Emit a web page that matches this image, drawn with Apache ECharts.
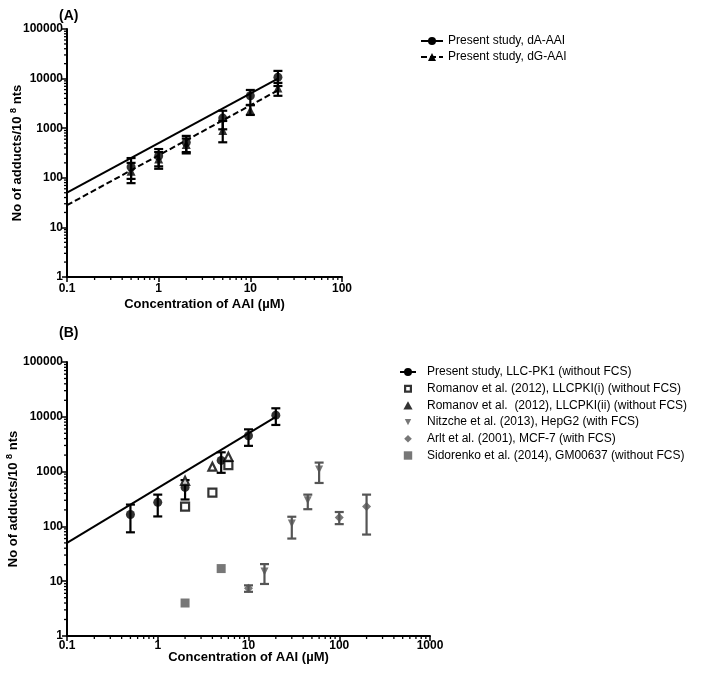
<!DOCTYPE html>
<html><head><meta charset="utf-8">
<script src="https://cdn.jsdelivr.net/npm/echarts@6/dist/echarts.min.js"></script>
<style>html,body{margin:0;padding:0;background:#fff}#c{width:709px;height:676px}</style>
</head><body><div id="c"></div>
<script>
// ---------- data ----------
const xTickLabelsA = ['0.1', '1', '10', '100'];
const xTickLabelsB = ['0.1', '1', '10', '100', '1000'];
const yTickLabels = ['1', '10', '100', '1000', '10000', '100000'];
const minorMultipliers = [2, 3, 4, 5, 6, 7, 8, 9];
const xDecadesA = [0.1, 1, 10];
const xDecadesB = [0.1, 1, 10, 100];
const yDecades = [1, 10, 100, 1000, 10000];

// Panel A
const conc = [0.5, 1, 2, 5, 10, 20];
const dA_mean = [165, 275, 515, 1600, 4500, 10700];
const dA_low = [78, 152, 310, 950, 2950, 7100];
const dA_high = [250, 380, 700, 2250, 5900, 14300];
const dG_mean = [135, 240, 470, 900, 2300, 6500];
const dG_low = [95, 170, 330, 520, 1850, 4500];
const dG_high = [200, 330, 620, 1400, 2900, 8200];
const fitX = [0.1, 20];
const fit_dA = [50, 10000];
const fit_dG = [28, 5800];

// Panel B
const present_mean = [165, 275, 515, 1600, 4500, 10700];
const present_low = [78, 152, 310, 950, 2950, 7100];
const present_high = [250, 380, 700, 2250, 5900, 14300];
const romanovI_x = [2, 4, 6];
const romanovI_y = [230, 415, 1310];
const romanovII_x = [2, 4, 6];
const romanovII_y = [680, 1230, 1860];
const nitzche_x = [15, 30, 45, 60];
const nitzche_y = [15, 113, 300, 1090];
const nitzche_low = [8.9, 60, 206, 620];
const nitzche_high = [20.5, 150, 380, 1460];
const arlt_x = [10, 100, 200];
const arlt_y = [7.4, 145, 230];
const arlt_low = [6.4, 110, 71];
const arlt_high = [8.4, 183, 380];
const sidorenko_x = [2, 5];
const sidorenko_y = [4, 17];

const legendA = ['Present study, dA-AAI', 'Present study, dG-AAI'];
const legendB = ['Present study, LLC-PK1 (without FCS)', 'Romanov et al. (2012), LLCPKI(i) (without FCS)',
  'Romanov et al.  (2012), LLCPKI(ii) (without FCS)', 'Nitzche et al. (2013), HepG2 (with FCS)',
  'Arlt et al. (2001), MCF-7 (with FCS)', 'Sidorenko et al. (2014), GM00637 (without FCS)'];

// ---------- helpers ----------
const FONT = "'Liberation Sans', Arial, sans-serif";
const GRAY = '#555555';
const zip = (xs, ys) => xs.map((x, i) => [x, ys[i]]);
const zip3 = (xs, lo, hi) => xs.map((x, i) => [x, lo[i], hi[i]]);
const minorVals = (decs) => { const o = []; decs.forEach(d => minorMultipliers.forEach(m => o.push(+(d * m).toPrecision(3)))); return o; };

function errSeries(idx, data, color) {
  return {
    type: 'custom', xAxisIndex: idx, yAxisIndex: idx, silent: true, z: 3,
    data: data, encode: { x: 0, y: [1, 2] }, itemStyle: { color: color },
    renderItem: function (params, api) {
      const x = api.value(0);
      const p1 = api.coord([x, api.value(1)]);
      const p2 = api.coord([x, api.value(2)]);
      const w = 4.5;
      const st = { stroke: color, lineWidth: 2.2 };
      return { type: 'group', children: [
        { type: 'line', shape: { x1: p1[0], y1: p1[1], x2: p2[0], y2: p2[1] }, style: st },
        { type: 'line', shape: { x1: p1[0] - w, y1: p1[1], x2: p1[0] + w, y2: p1[1] }, style: st },
        { type: 'line', shape: { x1: p2[0] - w, y1: p2[1], x2: p2[0] + w, y2: p2[1] }, style: st }
      ] };
    }
  };
}
function minorTickSeries(idx, vals, dir, fixed) {
  return {
    type: 'custom', xAxisIndex: idx, yAxisIndex: idx, silent: true, clip: false, z: 1,
    data: vals.map(v => dir === 'x' ? [v, fixed] : [fixed, v]),
    renderItem: function (params, api) {
      const p = api.coord([api.value(0), api.value(1)]);
      const st = { stroke: '#000', lineWidth: 1.3 };
      if (dir === 'x') return { type: 'line', shape: { x1: p[0], y1: p[1], x2: p[0], y2: p[1] + 3 }, style: st };
      return { type: 'line', shape: { x1: p[0] - 3, y1: p[1], x2: p[0], y2: p[1] }, style: st };
    }
  };
}
function xAxisCfg(idx, max, labels, gap, lblMargin) {
  return {
    type: 'log', logBase: 10, gridIndex: idx, min: 0.1, max: max,
    name: 'Concentration of AAI (\u00B5M)', nameLocation: 'middle', nameGap: gap, nameMoveOverlap: false,
    nameTextStyle: { fontFamily: FONT, fontWeight: 'bold', fontSize: 13, color: '#000' },
    axisLine: { lineStyle: { color: '#000', width: 2 } },
    axisTick: { length: 5, lineStyle: { width: 1.5, color: '#000' } },
    axisLabel: { fontFamily: FONT, fontWeight: 'bold', fontSize: 12, color: '#000', margin: lblMargin,
      formatter: (v) => { const s = String(+v.toPrecision(3)); return labels.indexOf(s) >= 0 ? s : ''; } },
    splitLine: { show: false }
  };
}
function yAxisCfg(idx, gap) {
  return {
    type: 'log', logBase: 10, gridIndex: idx, min: 1, max: 100000,
    name: 'No of adducts/10 {sup|8} nts', nameLocation: 'middle', nameGap: gap, nameRotate: 90, nameMoveOverlap: false,
    nameTextStyle: { fontFamily: FONT, fontWeight: 'bold', fontSize: 13, color: '#000',
      rich: { sup: { fontFamily: FONT, fontWeight: 'bold', fontSize: 9, color: '#000', padding: [0, 0, 8, 0] } } },
    axisLine: { lineStyle: { color: '#000', width: 2 } },
    axisTick: { length: 5, lineStyle: { width: 1.5, color: '#000' } },
    axisLabel: { fontFamily: FONT, fontWeight: 'bold', fontSize: 12, color: '#000', margin: 4,
      formatter: (v) => { const s = String(+v.toPrecision(6)); return yTickLabels.indexOf(s) >= 0 ? s : ''; } },
    splitLine: { show: false }
  };
}

// legend icons (box 22 x 10; leading moves fix the bounding box)
const EXT = 'M0,0 M22,10 ';
const iconB = [
  'path://' + EXT + 'M0,4.1 L16,4.1 L16,5.9 L0,5.9 Z M12,5 A4,4 0 1,1 4,5 A4,4 0 1,1 12,5 Z',
  'path://' + EXT + 'M4,1 L12,1 L12,9 L4,9 Z M6.2,3.2 L6.2,6.8 L9.8,6.8 L9.8,3.2 Z',
  'path://' + EXT + 'M8,0.8 L12.6,9 L3.4,9 Z',
  'path://' + EXT + 'M4.8,2 L11.2,2 L8,8.2 Z',
  'path://' + EXT + 'M8,1.2 L11.8,5 L8,8.8 L4.2,5 Z',
  'path://' + EXT + 'M3.8,0.8 L12.2,0.8 L12.2,9.2 L3.8,9.2 Z'
];
const colorB = ['#000', '#000', '#000', GRAY, GRAY, GRAY];

const series = [
  // Panel A
  { type: 'line', name: legendA[0], xAxisIndex: 0, yAxisIndex: 0, data: zip(fitX, fit_dA), showSymbol: false,
    symbol: 'circle', symbolSize: 9, lineStyle: { color: '#000', width: 2 }, itemStyle: { color: '#000' }, silent: true, z: 2 },
  { type: 'line', name: legendA[1], xAxisIndex: 0, yAxisIndex: 0, data: zip(fitX, fit_dG), showSymbol: false,
    symbol: 'triangle', symbolSize: 9, lineStyle: { color: '#000', width: 2, type: [6, 3] }, itemStyle: { color: '#000' }, silent: true, z: 2 },
  errSeries(0, zip3(conc, dG_low, dG_high), '#000'),
  errSeries(0, zip3(conc, dA_low, dA_high), '#000'),
  { type: 'scatter', name: legendA[1], xAxisIndex: 0, yAxisIndex: 0, data: zip(conc, dG_mean), symbol: 'triangle', symbolSize: 9, itemStyle: { color: '#000' }, z: 4 },
  { type: 'scatter', name: legendA[0], xAxisIndex: 0, yAxisIndex: 0, data: zip(conc, dA_mean), symbol: 'circle', symbolSize: 9, itemStyle: { color: '#000' }, z: 4 },
  minorTickSeries(0, minorVals(xDecadesA), 'x', 1),
  minorTickSeries(0, minorVals(yDecades), 'y', 0.1),

  // Panel B
  { type: 'line', name: legendB[0], xAxisIndex: 1, yAxisIndex: 1, data: zip(fitX, fit_dA), showSymbol: false,
    symbol: 'circle', symbolSize: 9, lineStyle: { color: '#000', width: 2 }, itemStyle: { color: '#000' }, silent: true, z: 2 },
  errSeries(1, zip3(conc, present_low, present_high), '#000'),
  { type: 'scatter', name: legendB[0], xAxisIndex: 1, yAxisIndex: 1, data: zip(conc, present_mean), symbol: 'circle', symbolSize: 9, itemStyle: { color: '#000' }, z: 4 },
  { type: 'scatter', name: legendB[1], xAxisIndex: 1, yAxisIndex: 1, data: zip(romanovI_x, romanovI_y), symbol: 'rect', symbolSize: 8,
    itemStyle: { color: '#fff', borderColor: '#000', borderWidth: 2.2 }, z: 5 },
  { type: 'scatter', name: legendB[2], xAxisIndex: 1, yAxisIndex: 1, data: zip(romanovII_x, romanovII_y), symbol: 'triangle', symbolSize: 8,
    itemStyle: { color: '#fff', borderColor: '#000', borderWidth: 2.2 }, z: 5 },
  errSeries(1, zip3(nitzche_x, nitzche_low, nitzche_high), GRAY),
  { type: 'scatter', name: legendB[3], xAxisIndex: 1, yAxisIndex: 1, data: zip(nitzche_x, nitzche_y), symbol: 'triangle', symbolRotate: 180, symbolSize: 8,
    itemStyle: { color: GRAY }, z: 5 },
  errSeries(1, zip3(arlt_x, arlt_low, arlt_high), GRAY),
  { type: 'scatter', name: legendB[4], xAxisIndex: 1, yAxisIndex: 1, data: zip(arlt_x, arlt_y), symbol: 'diamond', symbolSize: 9,
    itemStyle: { color: GRAY }, z: 5 },
  { type: 'scatter', name: legendB[5], xAxisIndex: 1, yAxisIndex: 1, data: zip(sidorenko_x, sidorenko_y), symbol: 'rect', symbolSize: 9,
    itemStyle: { color: GRAY }, z: 5 },
  minorTickSeries(1, minorVals(xDecadesB), 'x', 1),
  minorTickSeries(1, minorVals(yDecades), 'y', 0.1)
];

const chart = echarts.init(document.getElementById('c'), null, { renderer: 'canvas' });
chart.setOption({
  animation: false,
  backgroundColor: '#fff',
  textStyle: { fontFamily: FONT },
  title: [
    { text: '(A)', left: 54, top: 4, textStyle: { fontFamily: FONT, fontWeight: 'bold', fontSize: 14, color: '#000' } },
    { text: '(B)', left: 54, top: 321, textStyle: { fontFamily: FONT, fontWeight: 'bold', fontSize: 14, color: '#000' } }
  ],
  grid: [
    { left: 67, top: 29, width: 275, height: 248, containLabel: false, outerBoundsMode: 'none' },
    { left: 67, top: 362, width: 363, height: 274, containLabel: false, outerBoundsMode: 'none' }
  ],
  xAxis: [xAxisCfg(0, 100, xTickLabelsA, 21, 6), xAxisCfg(1, 1000, xTickLabelsB, 15, 4)],
  yAxis: [yAxisCfg(0, 41), yAxisCfg(1, 45)],
  legend: [
    { data: legendA, orient: 'vertical', left: 415, top: 30, itemWidth: 22, itemHeight: 10, itemGap: 4,
      textStyle: { fontFamily: FONT, fontSize: 12, color: '#000' }, selectedMode: false },
    { data: legendB.map((n, i) => ({ name: n, icon: iconB[i], itemStyle: { color: colorB[i], borderWidth: 0 } })),
      orient: 'vertical', left: 395, top: 361, itemWidth: 22, itemHeight: 10, itemGap: 4.7, symbolKeepAspect: true,
      textStyle: { fontFamily: FONT, fontSize: 12, color: '#000' }, selectedMode: false }
  ],
  series: series
});
</script></body></html>
